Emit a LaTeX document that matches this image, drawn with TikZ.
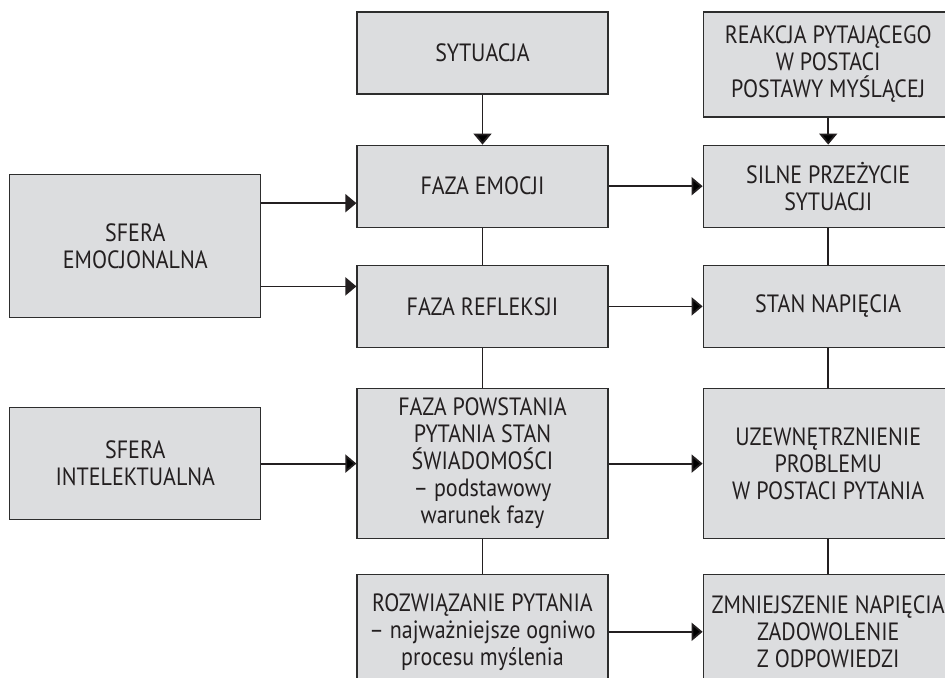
\documentclass[tikz,border=0pt]{standalone}
\usepackage{fontspec}
\setmainfont{PT Sans}[FakeStretch=0.88]
\usetikzlibrary{arrows.meta}
\usetikzlibrary{positioning}
\usetikzlibrary{calc}
\definecolor{boxfill}{RGB}{220,221,223}
\definecolor{boxline}{RGB}{45,45,45}
\definecolor{ink}{RGB}{35,31,32}

\begin{document}
\begin{tikzpicture}[x=0.5pt,y=-0.5pt,
        box/.style={draw=boxline,fill=boxfill,line width=0.6pt,text=ink,align=center,
            minimum width=125.5pt,minimum height=41pt,inner sep=2pt,
            font=\fontsize{12.5}{13.5}\selectfont},
        arr/.style={draw=ink,line width=0.9pt,-{Triangle[length=5.5pt,width=9pt]}},
        link/.style={draw=ink,line width=0.9pt}]
        \clip (0,0) rectangle (945,678);
        % middle column
        \node [box] (sit) at (482.5,53) {SYTUACJA};
        \node [box] (femo) [below=25pt of sit] {FAZA EMOCJI};
        \node [box] (frefl) [below=18.5pt of femo] {FAZA REFLEKSJI};
        \node [box,minimum height=75pt] (fpow) [below=20pt of frefl]
            {FAZA POWSTANIA\\PYTANIA STAN\\ŚWIADOMOŚCI\\– podstawowy\\warunek fazy};
        \node [box,minimum height=57pt] (froz) [below=17.5pt of fpow]
            {ROZWIĄZANIE PYTANIA\\– najważniejsze ogniwo\\procesu myślenia};
        % right column
        \node [box,minimum width=125pt] (silne) [right=47pt of femo] {SILNE PRZEŻYCIE\\SYTUACJI};
        \node [box,minimum width=125pt,minimum height=52.5pt] (reak) [above=13.5pt of silne]
            {REAKCJA PYTAJĄCEGO\\W POSTACI\\POSTAWY MYŚLĄCEJ};
        \node [box,minimum width=125pt] (stan) [right=47pt of frefl] {STAN NAPIĘCIA};
        \node [box,minimum width=125pt,minimum height=75pt] (uzew) [right=47pt of fpow]
            {UZEWNĘTRZNIENIE\\PROBLEMU\\W POSTACI PYTANIA};
        \node [box,minimum width=125pt,minimum height=57pt] (zmn) [right=47pt of froz]
            {ZMNIEJSZENIE NAPIĘCIA\\ZADOWOLENIE\\Z ODPOWIEDZI};
        % left column
        \coordinate (midl) at ($(femo.west)!0.5!(frefl.west)$);
        \node [box,minimum height=71.5pt] (sfemo) [left=47.5pt of midl] {SFERA\\EMOCJONALNA};
        \node [box,minimum height=56pt] (sfint) [left=47.5pt of fpow] {SFERA\\INTELEKTUALNA};
        \coordinate (in1) at ([yshift=-8.5pt]femo.west);
        \coordinate (in2) at ([yshift=10pt]frefl.west);
        \draw[arr] (in1 -| sfemo.east) -- (in1);
        \draw[arr] (in2 -| sfemo.east) -- (in2);
        \path[arr]
            (sit) edge (femo)
            (reak) edge (silne)
            (sfint) edge (fpow)
            (femo) edge (silne)
            (frefl) edge (stan)
            (fpow) edge (uzew)
            (froz) edge (zmn);
        \path[link]
            (femo) edge (frefl)
            (frefl) edge (fpow)
            (fpow) edge (froz)
            (silne) edge (stan)
            (stan) edge (uzew)
            (uzew) edge (zmn);
\end{tikzpicture}
\end{document}
